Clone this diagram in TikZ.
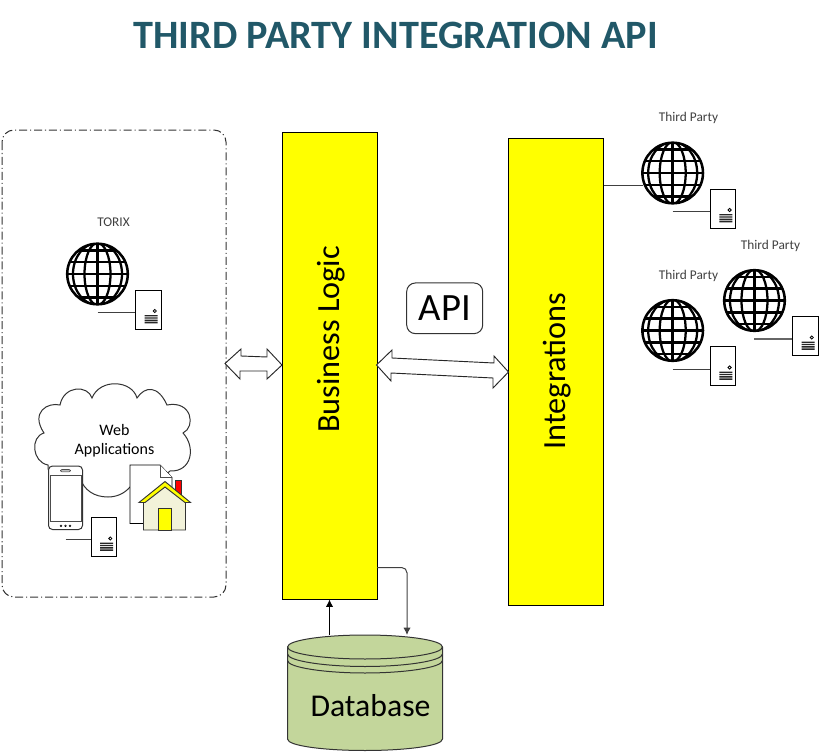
\documentclass[tikz,border=0pt]{standalone}
\usepackage{fontspec}
\setmainfont{Carlito}
\usetikzlibrary{arrows.meta}
\definecolor{titleteal}{HTML}{215868}
\definecolor{dbgreen}{HTML}{C3D69B}
\definecolor{housebody}{HTML}{F2F2D9}
\definecolor{labelgray}{HTML}{404040}
\definecolor{pureyellow}{RGB}{255,255,0}
\definecolor{purered}{RGB}{255,0,0}
\tikzset{
  bar/.style={draw=black,fill=pureyellow,line width=0.75pt,minimum width=71.25pt,minimum height=350.25pt,inner sep=0pt},
  barlabel/.style={font=\fontsize{24.2}{28}\selectfont,rotate=90,text=black},
  smalllabel/.style={font=\fontsize{10}{12}\selectfont,text=labelgray,inner sep=0pt},
  weblabel/.style={font=\fontsize{12}{14.3}\selectfont,text=black,align=center,inner sep=0pt},
  conn/.style={draw=black!75,line width=0.75pt},
  headconn/.style={draw=black,line width=0.75pt,-{Latex[length=5.5pt,width=5.5pt]}},
  hollow/.style={draw=black!85,fill=white,line width=0.7pt,line join=miter},
  globe/.pic={
    \begin{scope}
      \clip (0,0) circle (31);
      \draw[line width=1.9pt] (0,-31) -- (0,31) (-31,0) -- (31,0);
      \draw[line width=1.7pt] (-31,-12) -- (31,-12) (-31,12) -- (31,12)
                              (-31,-23.5) -- (31,-23.5) (-31,23.5) -- (31,23.5);
      \draw[line width=1.7pt] (0,0) ellipse (13 and 31);
      \draw[line width=1.7pt] (0,0) ellipse (24.5 and 31);
    \end{scope}
    \draw[line width=1.9pt] (0,0) circle (30.3);
  },
  serverbox/.pic={
    \draw[draw=black,fill=white,line width=0.7pt] (0,0) rectangle (25.5,39);
    \draw[line width=0.6pt] (19.3,21) circle (1.6);
    \fill[black!85] (9,25) rectangle (22,26.4) (9,27.3) rectangle (22,28.7)
                    (9,29.6) rectangle (22,31) (9,31.9) rectangle (22,33.3);
  },
}
\begin{document}
\begin{tikzpicture}[x=0.75pt,y=-0.75pt]
\useasboundingbox (0,0) rectangle (819,753);
% title
\node[font=\fontsize{30.2}{34}\selectfont\bfseries,text=titleteal,inner sep=0pt] (title) at (395.5,35.5) {THIRD PARTY INTEGRATION API};
% dashed frame
\draw[draw=black!80,line width=0.75pt,rounded corners=9pt,dash pattern=on 6pt off 2.2pt on 0.8pt off 2.2pt] (2,130) rectangle (226,597);
% bars
\node[bar] (biz) at (329.5,365.5) {};
\node[bar] (integ) at (555.5,371.5) {};
\node[barlabel] (bizlabel) at (331.5,339.5) {Business Logic};
\node[barlabel] (integlabel) at (557,371) {Integrations};
% api
\node[draw=black!80,fill=white,rounded corners=6.5pt,line width=0.75pt,minimum width=57pt,minimum height=38pt,inner sep=0pt,font=\fontsize{29}{32}\selectfont] (api) at (444.7,308.3) {API};
% double arrows
\draw[hollow] (225,363.5) -- (241,349) -- (241,356) -- (267,357) -- (267,349) -- (282,365) -- (267,379) -- (267,371) -- (240,371) -- (240,379) -- cycle;
\draw[hollow] (376.5,365) -- (392,350) -- (392,358) -- (494,363) -- (494,356) -- (508.5,372) -- (493,388) -- (493,378) -- (391,373) -- (391,381) -- cycle;
% database
\draw[draw=black!80,fill=dbgreen,line width=0.75pt] (287.5,647) -- (287.5,739)
  .. controls (287.5,746) and (325,750.5) .. (365,750.5)
  .. controls (405,750.5) and (442.5,746) .. (442.5,739) -- (442.5,647)
  .. controls (442.5,640) and (405,635) .. (365,635)
  .. controls (325,635) and (287.5,640) .. (287.5,647) -- cycle;
\draw[draw=black!80,line width=0.75pt]
  (287.5,647) .. controls (287.5,654) and (325,659) .. (365,659) .. controls (405,659) and (442.5,654) .. (442.5,647)
  (287.5,654) .. controls (287.5,661) and (325,666.5) .. (365,666.5) .. controls (405,666.5) and (442.5,661) .. (442.5,654)
  (287.5,660.5) .. controls (287.5,667.5) and (325,673) .. (365,673) .. controls (405,673) and (442.5,667.5) .. (442.5,660.5);
\node[font=\fontsize{23.8}{28}\selectfont,inner sep=0pt] (dblabel) at (370.5,706) {Database};
% db connectors
\coordinate (dbup) at (329.5,635);
\coordinate (dbdown) at (407,635);
\coordinate (bizout) at (377,567.5);
\draw[headconn] (dbup) -- (dbup |- biz.south);
\draw[conn,rounded corners=4pt,-{Latex[length=5.5pt,width=5.5pt]}] (bizout) -- (bizout -| dbdown) -- (dbdown);
% third-party link
\coordinate (linkend) at (643,185);
\draw[conn] (integ.east |- linkend) -- (linkend);
% globes with servers
\pic at (97.5,274) {globe};
\draw[conn] (97.5,312.5) -- (135.5,312.5);
\pic at (135.5,290) {serverbox};
\pic at (672.7,173) {globe};
\draw[conn] (672.7,211.5) -- (710.3,211.5);
\pic at (710.3,189) {serverbox};
\pic at (754.5,300.5) {globe};
\draw[conn,draw=black!60,line width=1pt] (754,339) -- (792.5,339);
\pic at (792.5,316.5) {serverbox};
\pic at (672.7,330.5) {globe};
\draw[conn] (672.7,369) -- (710.3,369);
\pic at (710.3,346.5) {serverbox};
% small labels
\node[smalllabel] (torix) at (113.5,222) {TORIX};
\node[smalllabel] (tp1) at (688.5,118) {Third Party};
\node[smalllabel] (tp2) at (770.5,246) {Third Party};
\node[smalllabel] (tp3) at (688.5,276) {Third Party};
% cloud
\draw[draw=black!80,fill=white,line width=0.75pt]
  (108,497) .. controls (94,497) and (84,490) .. (80,478)
  .. controls (62,484) and (46,476) .. (48,465)
  .. controls (32,462) and (30,437) .. (44,433)
  .. controls (30,412) and (48,402) .. (60,405)
  .. controls (64,385) and (88,385) .. (92,398)
  .. controls (100,378) and (132,380) .. (137,398)
  .. controls (145,386) and (158,385) .. (167,405)
  .. controls (192,400) and (196,427) .. (183,433)
  .. controls (196,447) and (192,472) .. (170,471)
  .. controls (158,482) and (145,484) .. (130,487)
  .. controls (124,494) and (116,497) .. (108,497) -- cycle;
\node[weblabel] (web) at (114.5,441) {Web\\Applications};
% phone
\draw[draw=black!80,fill=white,line width=0.75pt,rounded corners=3pt] (48.5,466) rectangle (82.5,529.5);
\draw[draw=black!70,fill=white,line width=0.6pt] (50.5,475) rectangle (81,521.5);
\draw[draw=black!70,fill=gray!50,rounded corners=1pt,line width=0.4pt] (60.5,469.5) rectangle (70.5,471.8);
\foreach \xx in {61,65.5,70}{\draw[line width=0.4pt] (\xx,525.8) circle (0.9);}
% web server
\draw[conn] (65.5,539.5) -- (91,539.5);
\begin{scope}[shift={(91,517.5)},xscale=1.07,yscale=1.07]
\pic at (0,0) {serverbox};
\end{scope}
% document
\draw[draw=black,fill=white,line width=0.7pt] (130,465) -- (160,465) -- (172,477.5) -- (172,523.5) -- (130,523.5) -- cycle;
\draw[draw=black!70,fill=white,line width=0.5pt] (160,465) -- (160,477.5) -- (172,477.5);
% house
\draw[draw=black!80,fill=purered,line width=0.6pt] (175,480) rectangle (181.5,497);
\draw[draw=black!80,fill=housebody,line width=0.7pt] (143.5,502) -- (165,485) -- (185.5,502) -- (185.5,530) -- (143.5,530) -- cycle;
\draw[draw=black!80,fill=pureyellow,line width=0.7pt,line join=miter] (139,502.5) -- (165,481.5) -- (190.5,502.5) -- (185,502.5) -- (165,487) -- (145,502.5) -- cycle;
\draw[draw=black!80,fill=pureyellow,line width=0.7pt] (158.5,508) rectangle (171.5,530);
\end{tikzpicture}
\end{document}
